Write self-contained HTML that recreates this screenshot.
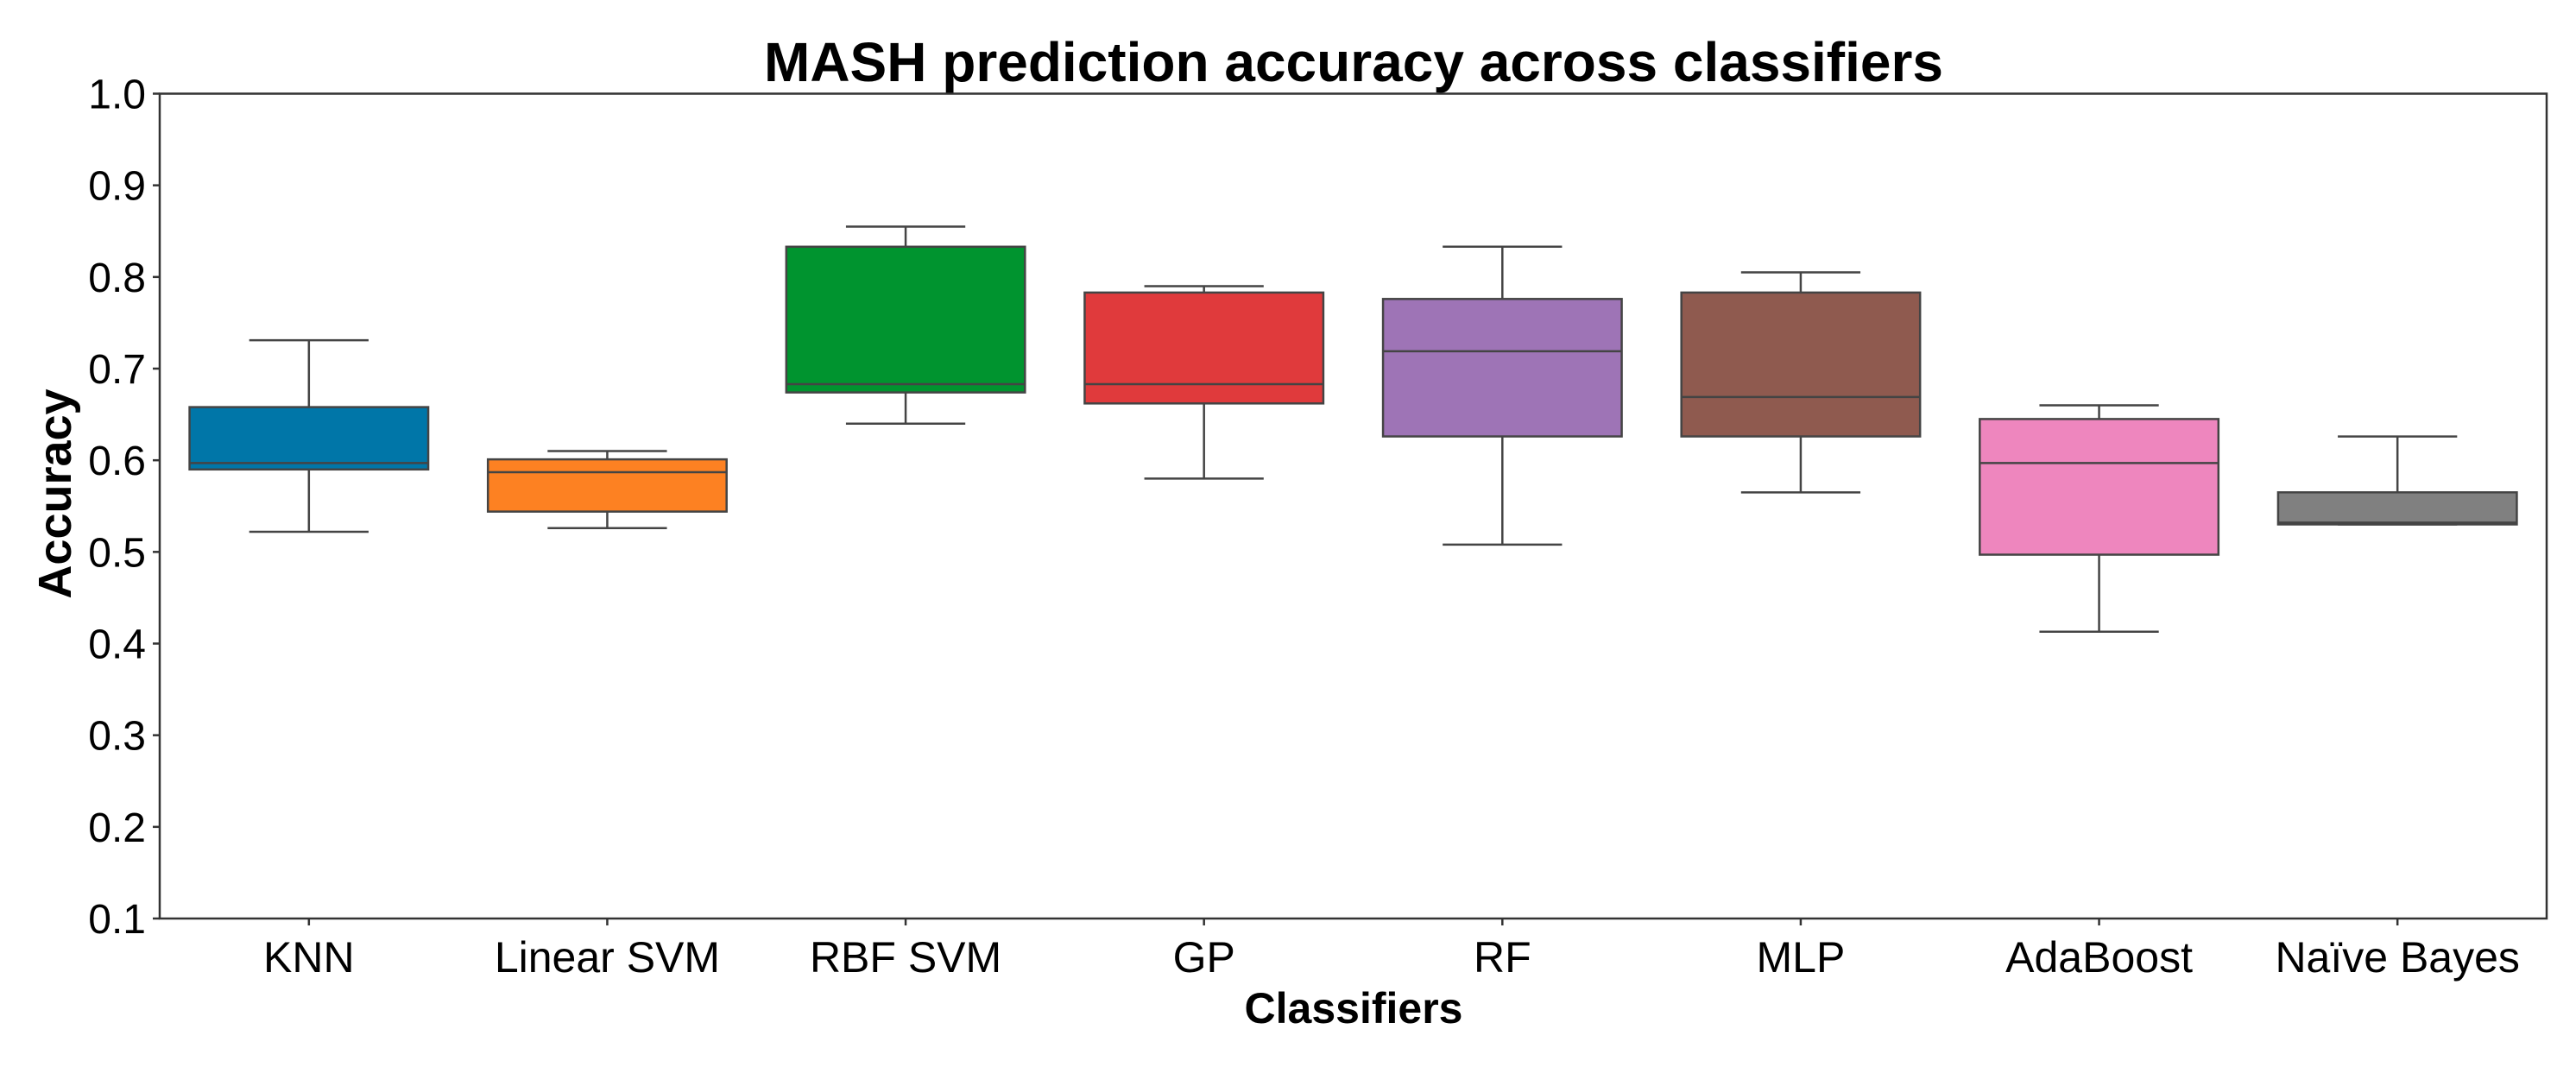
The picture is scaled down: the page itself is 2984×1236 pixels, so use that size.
<!DOCTYPE html>
<html><head><meta charset="utf-8"><style>
html,body{margin:0;padding:0;background:#fff;}
svg{display:block;font-family:"Liberation Sans",sans-serif;}
</style></head><body>
<svg id="chart" width="2984" height="1236" viewBox="0 0 2984 1236">
<text x="1568" y="94" text-anchor="middle" font-size="64" font-weight="bold">MASH prediction accuracy across classifiers</text>
<text x="1568" y="1185" text-anchor="middle" font-size="50" font-weight="bold">Classifiers</text>
<text transform="translate(82,572) rotate(-90)" text-anchor="middle" font-size="54" font-weight="bold">Accuracy</text>
<g id="ticks"></g>
<g id="boxes"></g>
<rect x="185" y="108.5" width="2765" height="955.5" fill="none" stroke="#333" stroke-width="2.5"/>
</svg>
<script>
const categories=["KNN","Linear SVM","RBF SVM","GP","RF","MLP","AdaBoost","Naïve Bayes"];
const whiskerHigh=[0.731,0.610,0.855,0.790,0.833,0.805,0.660,0.626];
const q3=[0.658,0.601,0.833,0.783,0.776,0.783,0.645,0.565];
const medians=[0.597,0.587,0.683,0.683,0.719,0.669,0.597,0.532];
const q1=[0.590,0.544,0.674,0.662,0.626,0.626,0.497,0.530];
const whiskerLow=[0.522,0.526,0.640,0.580,0.508,0.565,0.413,0.530];
const yTicks=[0.1,0.2,0.3,0.4,0.5,0.6,0.7,0.8,0.9,1.0];
const colors=["#0076a8","#fd8122","#00942f","#e03a3c","#9e74b6","#8f5a4f","#ee86be","#808080"];
const NS="http://www.w3.org/2000/svg";
const L=185,R=2950,T=108.5,B=1064;
const y=v=>B-(v-0.1)/0.9*(B-T);
const band=(R-L)/categories.length;
const xc=i=>L+band*(i+0.5);
function mk(tag,attrs,parent){const e=document.createElementNS(NS,tag);for(const k in attrs)e.setAttribute(k,attrs[k]);parent.appendChild(e);return e;}
const tg=document.getElementById('ticks');
yTicks.forEach(v=>{
  const l=mk('line',{x1:L-8,x2:L,y1:y(v),y2:y(v),stroke:'#333','stroke-width':2.5},tg);
  
  
  const t=mk('text',{x:L-16,y:y(v)+17,'text-anchor':'end','font-size':48},tg);
  t.textContent=v.toFixed(1);
  
  
});
const bg=document.getElementById('boxes');
categories.forEach((c,i)=>{
  const x=xc(i),bw=band*0.8,cw=bw/2;
  const g=mk('g',{},bg);
  
  
  const st={stroke:'#444','stroke-width':2.5};
  mk('line',Object.assign({x1:x,x2:x,y1:y(whiskerHigh[i]),y2:y(q3[i])},st),g);
  mk('line',Object.assign({x1:x,x2:x,y1:y(q1[i]),y2:y(whiskerLow[i])},st),g);
  mk('line',Object.assign({x1:x-cw/2,x2:x+cw/2,y1:y(whiskerHigh[i]),y2:y(whiskerHigh[i])},st),g);
  mk('line',Object.assign({x1:x-cw/2,x2:x+cw/2,y1:y(whiskerLow[i]),y2:y(whiskerLow[i])},st),g);
  mk('rect',Object.assign({x:x-bw/2,y:y(q3[i]),width:bw,height:Math.max(1,y(q1[i])-y(q3[i])),fill:colors[i]},st),g);
  mk('line',Object.assign({x1:x-bw/2,x2:x+bw/2,y1:y(medians[i]),y2:y(medians[i])},st),g);
  mk('line',{x1:x,x2:x,y1:B,y2:B+8,stroke:'#333','stroke-width':2.5},g);
  const t=mk('text',{x:x,y:B+62,'text-anchor':'middle','font-size':50},g);
  t.textContent=c;
  
  
});
</script>
</body></html>
